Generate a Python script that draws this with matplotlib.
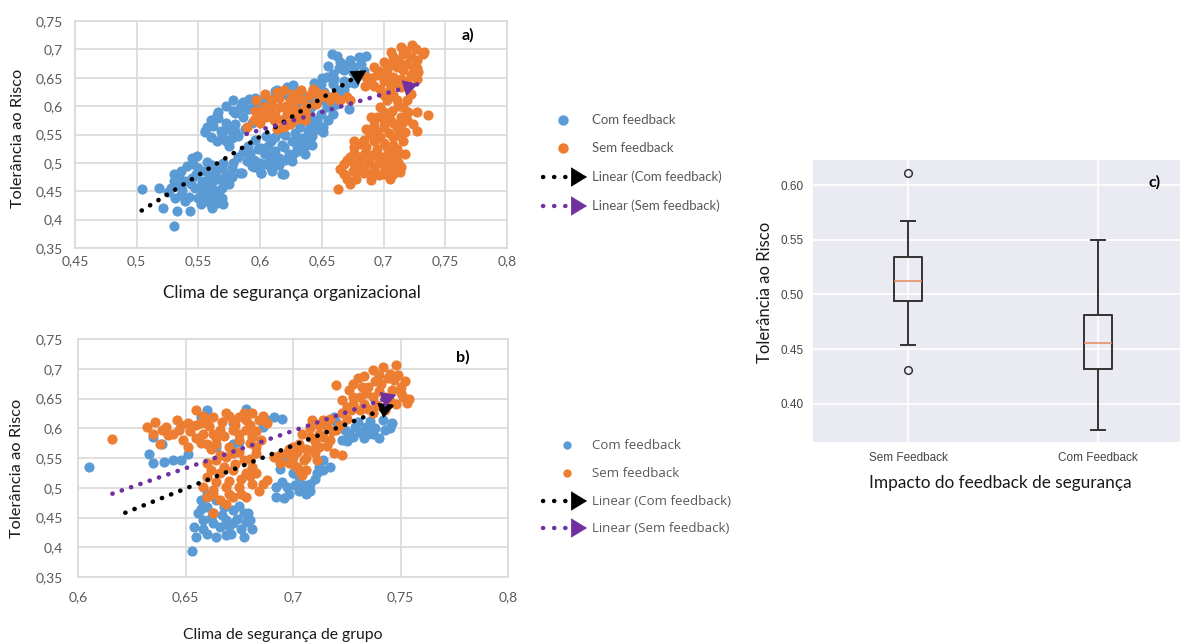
import numpy as np
import matplotlib
matplotlib.use("Agg")
import matplotlib.pyplot as plt

BLUE = "#5B9BD5"
ORANGE = "#ED7D31"
PURPLE = "#7030A0"
GRID = "#D9D9D9"
TICK = "#595959"
LABEL_FONT = ["Lato", "DejaVu Sans"]

# ---------------- data ----------------
# a) organisational safety climate vs risk tolerance
a_com = [
    (0.504, 0.454), (0.518, 0.455), (0.521, 0.421), (0.530, 0.389), (0.533, 0.415),
    (0.543, 0.415), (0.561, 0.421), (0.570, 0.428), (0.619, 0.481), (0.610, 0.486),
    (0.601, 0.482), (0.584, 0.482),
    (0.528, 0.456), (0.534, 0.462), (0.539, 0.468), (0.545, 0.474), (0.547, 0.456),
    (0.553, 0.450), (0.558, 0.456), (0.550, 0.438), (0.539, 0.432), (0.536, 0.444),
    (0.531, 0.438), (0.555, 0.432), (0.561, 0.438), (0.566, 0.444), (0.569, 0.456),
    (0.572, 0.468), (0.574, 0.479), (0.577, 0.491), (0.569, 0.491), (0.561, 0.479),
    (0.555, 0.485), (0.550, 0.491), (0.545, 0.509), (0.549, 0.512), (0.536, 0.485),
    (0.534, 0.474), (0.553, 0.468), (0.562, 0.468), (0.565, 0.429), (0.569, 0.438),
    (0.561, 0.497), (0.572, 0.479),
    (0.525, 0.448), (0.530, 0.468), (0.537, 0.452), (0.542, 0.440), (0.544, 0.462),
    (0.548, 0.480), (0.552, 0.460), (0.556, 0.444), (0.558, 0.470), (0.563, 0.452),
    (0.564, 0.485), (0.567, 0.472), (0.570, 0.500), (0.575, 0.462), (0.578, 0.500),
    (0.541, 0.495), (0.546, 0.498), (0.557, 0.502), (0.530, 0.480), (0.552, 0.427),
    (0.560, 0.428), (0.577, 0.475), (0.582, 0.510), (0.586, 0.520), (0.595, 0.505),
    (0.598, 0.525),
    (0.555, 0.556), (0.562, 0.565), (0.569, 0.550), (0.577, 0.544), (0.572, 0.538),
    (0.565, 0.538), (0.580, 0.556),
    (0.566, 0.579), (0.572, 0.571), (0.580, 0.588), (0.585, 0.603), (0.584, 0.597),
    (0.591, 0.612), (0.596, 0.615), (0.580, 0.568), (0.574, 0.559),
    (0.560, 0.575), (0.566, 0.590), (0.572, 0.600), (0.578, 0.592), (0.586, 0.580),
    (0.590, 0.595), (0.593, 0.570), (0.588, 0.560), (0.582, 0.548), (0.575, 0.530),
    (0.560, 0.545), (0.595, 0.600), (0.600, 0.590), (0.605, 0.605), (0.598, 0.580),
    (0.601, 0.526), (0.609, 0.538), (0.618, 0.532), (0.626, 0.538), (0.634, 0.544),
    (0.639, 0.556), (0.631, 0.521), (0.623, 0.515), (0.615, 0.509), (0.607, 0.503),
    (0.609, 0.491), (0.599, 0.491), (0.593, 0.494), (0.585, 0.482), (0.601, 0.482),
    (0.618, 0.481), (0.615, 0.497), (0.626, 0.503), (0.636, 0.515), (0.642, 0.532),
    (0.604, 0.515), (0.612, 0.521), (0.590, 0.530), (0.596, 0.540), (0.592, 0.518),
    (0.600, 0.500), (0.606, 0.530), (0.612, 0.545), (0.620, 0.550), (0.628, 0.552),
    (0.620, 0.505), (0.630, 0.535), (0.636, 0.530), (0.642, 0.548), (0.646, 0.560),
    (0.640, 0.568), (0.632, 0.580), (0.625, 0.570), (0.615, 0.555), (0.605, 0.548),
    (0.604, 0.618), (0.612, 0.626), (0.620, 0.626), (0.626, 0.632), (0.628, 0.624),
    (0.599, 0.603),
    (0.658, 0.692), (0.665, 0.678), (0.673, 0.681), (0.680, 0.686), (0.686, 0.689),
    (0.676, 0.669), (0.668, 0.663), (0.659, 0.657), (0.654, 0.651), (0.649, 0.639),
    (0.643, 0.628), (0.659, 0.639), (0.668, 0.645), (0.678, 0.651), (0.665, 0.628),
    (0.657, 0.616), (0.649, 0.610), (0.641, 0.598), (0.649, 0.586), (0.654, 0.598),
    (0.662, 0.604), (0.672, 0.595), (0.659, 0.586), (0.651, 0.563), (0.651, 0.554),
    (0.638, 0.575), (0.632, 0.563), (0.638, 0.539), (0.630, 0.528), (0.627, 0.516),
    (0.619, 0.528), (0.611, 0.516), (0.614, 0.504), (0.605, 0.498), (0.595, 0.492),
    (0.589, 0.504),
    (0.645, 0.615), (0.652, 0.625), (0.660, 0.648), (0.664, 0.668), (0.670, 0.672),
    (0.675, 0.660), (0.682, 0.675), (0.684, 0.662), (0.662, 0.688), (0.655, 0.670),
    (0.650, 0.650), (0.644, 0.640), (0.658, 0.600), (0.665, 0.615), (0.670, 0.640),
    (0.676, 0.640), (0.668, 0.628), (0.646, 0.575), (0.655, 0.575), (0.639, 0.610),
    (0.635, 0.620), (0.630, 0.605), (0.640, 0.585),
    (0.578, 0.610), (0.586, 0.607), (0.565, 0.584), (0.557, 0.563), (0.555, 0.554),
    (0.568, 0.557), (0.578, 0.563), (0.614, 0.628), (0.622, 0.634), (0.627, 0.637),
    (0.612, 0.616), (0.622, 0.619),
]
a_sem = [
    (0.589, 0.563), (0.595, 0.575), (0.597, 0.610), (0.596, 0.592), (0.604, 0.622),
    (0.605, 0.581), (0.611, 0.575), (0.616, 0.598), (0.614, 0.560), (0.619, 0.563),
    (0.622, 0.586), (0.624, 0.610), (0.627, 0.622), (0.632, 0.592), (0.634, 0.610),
    (0.633, 0.628), (0.643, 0.631), (0.649, 0.616), (0.645, 0.604), (0.627, 0.575),
    (0.619, 0.628), (0.614, 0.625), (0.603, 0.598), (0.609, 0.610), (0.657, 0.610),
    (0.670, 0.616), (0.673, 0.610), (0.637, 0.586), (0.627, 0.598), (0.624, 0.569),
    (0.600, 0.570), (0.607, 0.590), (0.612, 0.585), (0.618, 0.575), (0.621, 0.600),
    (0.625, 0.588), (0.630, 0.578), (0.630, 0.612), (0.638, 0.600), (0.640, 0.620),
    (0.645, 0.625), (0.652, 0.622), (0.660, 0.618), (0.665, 0.610), (0.610, 0.600),
    (0.600, 0.585), (0.636, 0.575), (0.615, 0.615),
    (0.714, 0.704), (0.723, 0.707), (0.716, 0.692), (0.708, 0.686), (0.700, 0.678),
    (0.692, 0.669), (0.686, 0.651), (0.685, 0.636), (0.692, 0.636), (0.700, 0.645),
    (0.708, 0.651), (0.716, 0.663), (0.724, 0.669), (0.727, 0.681), (0.732, 0.692),
    (0.733, 0.695), (0.722, 0.686), (0.703, 0.663), (0.695, 0.654), (0.711, 0.669),
    (0.719, 0.645), (0.722, 0.622), (0.727, 0.648), (0.728, 0.660), (0.697, 0.631),
    (0.705, 0.631), (0.714, 0.634),
    (0.690, 0.650), (0.696, 0.662), (0.704, 0.672), (0.712, 0.680), (0.718, 0.697),
    (0.726, 0.700), (0.706, 0.695), (0.714, 0.648), (0.722, 0.655), (0.700, 0.655),
    (0.690, 0.643), (0.710, 0.640), (0.718, 0.675), (0.727, 0.668), (0.704, 0.645),
    (0.703, 0.610), (0.711, 0.610), (0.697, 0.598), (0.707, 0.592), (0.716, 0.598),
    (0.719, 0.610), (0.695, 0.581), (0.705, 0.578), (0.714, 0.581), (0.692, 0.566),
    (0.700, 0.563), (0.711, 0.563), (0.717, 0.554), (0.689, 0.551), (0.697, 0.545),
    (0.708, 0.545), (0.716, 0.539), (0.681, 0.534), (0.676, 0.528), (0.686, 0.528),
    (0.695, 0.525), (0.703, 0.528), (0.711, 0.525), (0.673, 0.510), (0.681, 0.510),
    (0.691, 0.513), (0.700, 0.510), (0.710, 0.510), (0.717, 0.516), (0.668, 0.498),
    (0.676, 0.498), (0.684, 0.492), (0.692, 0.492), (0.700, 0.495), (0.708, 0.492),
    (0.714, 0.492), (0.665, 0.489), (0.670, 0.472), (0.678, 0.472), (0.689, 0.481),
    (0.700, 0.481), (0.709, 0.486), (0.663, 0.454), (0.727, 0.589), (0.736, 0.584),
    (0.727, 0.557), (0.719, 0.575), (0.724, 0.569), (0.676, 0.539),
    (0.700, 0.620), (0.708, 0.620), (0.712, 0.600), (0.700, 0.590), (0.690, 0.580),
    (0.700, 0.573), (0.708, 0.570), (0.715, 0.570), (0.720, 0.590), (0.686, 0.560),
    (0.695, 0.555), (0.704, 0.553), (0.712, 0.550), (0.684, 0.540), (0.692, 0.538),
    (0.700, 0.535), (0.708, 0.532), (0.676, 0.518), (0.685, 0.518), (0.695, 0.518),
    (0.704, 0.518), (0.712, 0.518), (0.670, 0.505), (0.680, 0.503), (0.688, 0.503),
    (0.696, 0.502), (0.705, 0.503), (0.712, 0.502), (0.675, 0.485), (0.684, 0.482),
    (0.694, 0.482), (0.704, 0.485), (0.713, 0.484), (0.668, 0.480), (0.673, 0.462),
    (0.680, 0.488), (0.690, 0.470), (0.696, 0.478), (0.705, 0.472), (0.708, 0.480),
]
# trend lines: start (x, y) and arrow tip (x, y)
a_trend_com = (0.504, 0.416, 0.686, 0.663)
a_trend_sem = (0.589, 0.551, 0.728, 0.639)

# b) group safety climate vs risk tolerance
b_com = [
    (0.605, 0.535), (0.633, 0.556), (0.635, 0.541), (0.640, 0.543), (0.644, 0.546),
    (0.648, 0.546), (0.651, 0.557), (0.653, 0.393), (0.655, 0.417), (0.654, 0.434),
    (0.656, 0.457), (0.657, 0.479), (0.660, 0.468), (0.663, 0.457), (0.660, 0.423),
    (0.664, 0.417), (0.671, 0.423), (0.677, 0.417), (0.672, 0.440), (0.678, 0.443),
    (0.669, 0.446), (0.666, 0.434), (0.663, 0.440), (0.658, 0.446), (0.672, 0.462),
    (0.677, 0.457), (0.668, 0.468), (0.660, 0.490), (0.679, 0.457),
    (0.658, 0.430), (0.662, 0.450), (0.667, 0.455), (0.670, 0.435), (0.674, 0.448),
    (0.676, 0.430), (0.669, 0.420), (0.657, 0.465), (0.664, 0.480), (0.675, 0.470),
    (0.680, 0.445), (0.681, 0.430),
    (0.657, 0.619), (0.660, 0.630), (0.678, 0.633), (0.686, 0.602), (0.688, 0.614),
    (0.672, 0.608), (0.664, 0.569), (0.672, 0.574), (0.675, 0.577), (0.639, 0.574),
    (0.635, 0.586), (0.691, 0.619), (0.695, 0.615),
    (0.692, 0.501), (0.697, 0.501), (0.701, 0.504), (0.692, 0.485), (0.696, 0.482),
    (0.706, 0.490), (0.708, 0.507), (0.711, 0.524), (0.712, 0.535), (0.714, 0.546),
    (0.717, 0.535), (0.703, 0.518), (0.700, 0.524), (0.694, 0.532), (0.697, 0.546),
    (0.695, 0.510), (0.703, 0.495), (0.708, 0.495), (0.714, 0.530), (0.705, 0.505),
    (0.698, 0.490), (0.710, 0.515),
    (0.723, 0.580), (0.728, 0.586), (0.733, 0.583), (0.737, 0.591), (0.740, 0.583),
    (0.743, 0.597), (0.746, 0.608), (0.724, 0.597), (0.729, 0.602), (0.720, 0.611),
    (0.719, 0.619), (0.742, 0.614), (0.734, 0.602),
    (0.726, 0.590), (0.731, 0.593), (0.738, 0.600), (0.745, 0.600), (0.730, 0.610),
    (0.736, 0.612), (0.725, 0.578), (0.735, 0.590),
]
b_sem = [
    (0.616, 0.582), (0.632, 0.602), (0.636, 0.611), (0.635, 0.591), (0.638, 0.574),
    (0.641, 0.602), (0.644, 0.591), (0.647, 0.597), (0.649, 0.580), (0.651, 0.569),
    (0.646, 0.614), (0.651, 0.608), (0.655, 0.630), (0.657, 0.608), (0.660, 0.614),
    (0.663, 0.619), (0.658, 0.591), (0.663, 0.591), (0.660, 0.574), (0.664, 0.574),
    (0.669, 0.625), (0.672, 0.614), (0.675, 0.619), (0.678, 0.614), (0.681, 0.625),
    (0.684, 0.614), (0.672, 0.597), (0.678, 0.597), (0.666, 0.597), (0.655, 0.583),
    (0.670, 0.569), (0.681, 0.586), (0.683, 0.569),
    (0.652, 0.595), (0.655, 0.605), (0.658, 0.620), (0.661, 0.603), (0.664, 0.583),
    (0.667, 0.610), (0.668, 0.587), (0.670, 0.620), (0.673, 0.605), (0.675, 0.590),
    (0.677, 0.625), (0.680, 0.605), (0.683, 0.595), (0.686, 0.620), (0.688, 0.608),
    (0.657, 0.575), (0.662, 0.565), (0.675, 0.580), (0.680, 0.575), (0.685, 0.580),
    (0.642, 0.588), (0.648, 0.606), (0.639, 0.597),
    (0.660, 0.541), (0.664, 0.546), (0.669, 0.552), (0.672, 0.558), (0.677, 0.546),
    (0.660, 0.518), (0.666, 0.524), (0.672, 0.530), (0.678, 0.524), (0.681, 0.535),
    (0.658, 0.501), (0.663, 0.496), (0.669, 0.501), (0.675, 0.501), (0.681, 0.507),
    (0.686, 0.507), (0.660, 0.485), (0.666, 0.479), (0.672, 0.485), (0.678, 0.485),
    (0.669, 0.473), (0.663, 0.457), (0.688, 0.513), (0.683, 0.558),
    (0.662, 0.530), (0.668, 0.535), (0.673, 0.540), (0.664, 0.510), (0.670, 0.512),
    (0.676, 0.515), (0.680, 0.520), (0.684, 0.495), (0.676, 0.490), (0.663, 0.490),
    (0.675, 0.560), (0.680, 0.548), (0.666, 0.555), (0.670, 0.490), (0.683, 0.525),
    (0.691, 0.552), (0.694, 0.541), (0.697, 0.558), (0.700, 0.569), (0.698, 0.541),
    (0.703, 0.529), (0.705, 0.546), (0.703, 0.574), (0.708, 0.586), (0.709, 0.563),
    (0.712, 0.569), (0.712, 0.591), (0.717, 0.580), (0.716, 0.602), (0.720, 0.597),
    (0.709, 0.614), (0.719, 0.558), (0.723, 0.555), (0.711, 0.546), (0.706, 0.529),
    (0.700, 0.552), (0.704, 0.521), (0.714, 0.614),
    (0.702, 0.560), (0.706, 0.565), (0.710, 0.578), (0.714, 0.585), (0.718, 0.595),
    (0.712, 0.605), (0.708, 0.600), (0.704, 0.590), (0.698, 0.565), (0.694, 0.555),
    (0.700, 0.540), (0.706, 0.550), (0.716, 0.570), (0.722, 0.605), (0.725, 0.615),
    (0.717, 0.615), (0.710, 0.558), (0.702, 0.535),
    (0.720, 0.673), (0.723, 0.647), (0.728, 0.653), (0.725, 0.636), (0.731, 0.630),
    (0.737, 0.625), (0.743, 0.630), (0.728, 0.675), (0.733, 0.687), (0.737, 0.698),
    (0.742, 0.703), (0.748, 0.706), (0.735, 0.670), (0.741, 0.675), (0.747, 0.681),
    (0.750, 0.670), (0.751, 0.653), (0.753, 0.642), (0.731, 0.653), (0.737, 0.653),
    (0.743, 0.653), (0.739, 0.639), (0.723, 0.625), (0.745, 0.692), (0.730, 0.684),
    (0.726, 0.665), (0.732, 0.670), (0.738, 0.680), (0.744, 0.685), (0.740, 0.690),
    (0.734, 0.660), (0.740, 0.662), (0.746, 0.665), (0.749, 0.690), (0.752, 0.680),
    (0.745, 0.645), (0.748, 0.640), (0.733, 0.640), (0.728, 0.640), (0.735, 0.632),
    (0.727, 0.630), (0.750, 0.660), (0.754, 0.650),
]
b_trend_com = (0.622, 0.458, 0.747, 0.639)
b_trend_sem = (0.616, 0.490, 0.748, 0.656)

y_ticks = [0.35, 0.40, 0.45, 0.50, 0.55, 0.60, 0.65, 0.70, 0.75]
a_x_ticks = [0.45, 0.50, 0.55, 0.60, 0.65, 0.70, 0.75, 0.80]
b_x_ticks = [0.60, 0.65, 0.70, 0.75, 0.80]

# c) risk tolerance by feedback condition (box statistics)
c_groups = ["Sem Feedback", "Com Feedback"]
c_whislo = [0.454, 0.376]
c_q1 = [0.494, 0.432]
c_med = [0.512, 0.456]
c_q3 = [0.534, 0.481]
c_whishi = [0.567, 0.550]
c_fliers = [[0.611, 0.431], []]
c_y_ticks = [0.40, 0.45, 0.50, 0.55, 0.60]

legend_labels = ["Com feedback", "Sem feedback",
                 "Linear (Com feedback)", "Linear (Sem feedback)"]

DOTS = (0, (0.05, 2.1))


def comma(v):
    return f"{v:g}".replace(".", ",")


def draw_trend(ax, tr, color):
    x0, y0, x1, y1 = tr
    ax.plot([x0, x1], [y0, y1], color=color, lw=3.3, ls=DOTS,
            dash_capstyle="round", zorder=4)
    ax.annotate("", xy=(x1, y1),
                xytext=(x1 - 0.04 * (x1 - x0), y1 - 0.04 * (y1 - y0)),
                arrowprops=dict(arrowstyle="-|>,head_length=0.9,head_width=0.5",
                                color=color, lw=0.5, mutation_scale=11,
                                shrinkA=0, shrinkB=0),
                zorder=5)


def excel_scatter(ax, com, sem, tr_com, tr_sem, xlim, xticks, xpad, ypad):
    ax.set_xlim(*xlim)
    ax.set_ylim(0.35, 0.75)
    ax.set_xticks(xticks)
    ax.set_xticklabels([comma(v) for v in xticks])
    ax.set_yticks(y_ticks)
    ax.set_yticklabels([comma(v) for v in y_ticks])
    ax.grid(True, color=GRID, lw=1.2)
    ax.set_axisbelow(True)
    for s in ax.spines.values():
        s.set_color(GRID)
        s.set_linewidth(1.2)
    ax.tick_params(axis="x", length=0, colors=TICK, labelsize=10, pad=xpad)
    ax.tick_params(axis="y", length=0, colors=TICK, labelsize=10, pad=ypad)
    for lab in ax.get_xticklabels() + ax.get_yticklabels():
        lab.set_fontfamily(LABEL_FONT)
    cx, cy = np.array(com).T
    sx, sy = np.array(sem).T
    ax.scatter(cx, cy, s=54, color=BLUE, lw=0, zorder=2)
    ax.scatter(sx, sy, s=54, color=ORANGE, lw=0, zorder=3)
    draw_trend(ax, tr_com, "black")
    draw_trend(ax, tr_sem, PURPLE)


fig = plt.figure(figsize=(11.8, 6.44), dpi=100)
W, H = 1180, 644


def px_axes(x0, y0, x1, y1):
    return fig.add_axes([x0 / W, 1 - y1 / H, (x1 - x0) / W, (y1 - y0) / H])


ax_a = px_axes(75, 21, 507, 248)
excel_scatter(ax_a, a_com, a_sem, a_trend_com, a_trend_sem,
              (0.45, 0.80), a_x_ticks, 5, 9)
ax_b = px_axes(78, 339, 508, 577)
excel_scatter(ax_b, b_com, b_sem, b_trend_com, b_trend_sem,
              (0.60, 0.80), b_x_ticks, 10, 11)

# c) box plot in a grey-grid style
ax_c = px_axes(813, 160, 1180, 442)
ax_c.set_facecolor("#EAEAF2")
stats = [dict(label=g, whislo=lo, q1=q1, med=m, q3=q3, whishi=hi, fliers=f)
         for g, lo, q1, m, q3, hi, f in zip(c_groups, c_whislo, c_q1, c_med,
                                             c_q3, c_whishi, c_fliers)]
line = dict(color="#333333", lw=1.4)
ax_c.bxp(stats, positions=[1, 2], widths=0.15, boxprops=line,
         whiskerprops=line, capprops=line,
         medianprops=dict(color="#E8875F", lw=1.1),
         flierprops=dict(marker="o", mfc="none", mec="#333333", ms=5.5, mew=1.1))
ax_c.set_xlim(0.5, 0.5 + 367 / 190)
ax_c.set_ylim(0.365, 0.623)
ax_c.set_yticks(c_y_ticks)
ax_c.set_yticklabels([f"{v:.2f}" for v in c_y_ticks])
ax_c.grid(True, color="white", lw=1.2)
ax_c.set_axisbelow(True)
for s in ax_c.spines.values():
    s.set_visible(False)
ax_c.tick_params(length=0, colors="#444444", labelsize=8.5, pad=7)
for lab in ax_c.get_xticklabels() + ax_c.get_yticklabels():
    lab.set_fontfamily(["Liberation Sans", "DejaVu Sans"])

# overlay in pixel units for labels and legends
ov = fig.add_axes([0, 0, 1, 1], zorder=10)
ov.set_xlim(0, W)
ov.set_ylim(H, 0)
ov.axis("off")
ov.patch.set_alpha(0)

lab_kw = dict(fontfamily=LABEL_FONT, color="#1a1a1a", ha="center", va="center")
ov.text(18, 138, "Tolerância ao Risco", rotation=90, fontsize=11.8, **lab_kw)
ov.text(292, 293, "Clima de segurança organizacional", fontsize=12.3, **lab_kw)
ov.text(17, 468, "Tolerância ao Risco", rotation=90, fontsize=11.8, **lab_kw)
ov.text(283, 635, "Clima de segurança de grupo", fontsize=11.3, **lab_kw)
ov.text(765, 292, "Tolerância ao Risco", rotation=90, fontsize=12, **lab_kw)
ov.text(1000, 483, "Impacto do feedback de segurança", fontsize=12.4, **lab_kw)

tag_kw = dict(fontfamily=LABEL_FONT, fontsize=11.5, fontweight="bold",
              color="black", ha="center", va="center")
ov.text(468, 35, "a)", **tag_kw)
ov.text(463, 357, "b)", **tag_kw)
ov.text(1155, 182, "c)", **tag_kw)


def legend(x_mark, rows, msize, fam):
    colors = [BLUE, ORANGE, "black", PURPLE]
    for i, (yy, lab, col) in enumerate(zip(rows, legend_labels, colors)):
        if i < 2:
            ov.plot([x_mark], [yy], "o", ms=msize, color=col, mew=0)
        else:
            ov.plot([543, 566], [yy, yy], color=col, lw=3.2,
                    ls=(0, (0.05, 2.45)), dash_capstyle="round")
            ov.annotate("", xy=(587, yy), xytext=(578, yy),
                        arrowprops=dict(arrowstyle="-|>,head_length=0.9,head_width=0.55",
                                        color=col, lw=0.5, mutation_scale=12,
                                        shrinkA=0, shrinkB=0))
        ov.text(592, yy, lab, fontfamily=fam, fontsize=9.5, color=TICK,
                ha="left", va="center")


legend(563, [120, 148, 177, 206], 7.5, LABEL_FONT)
legend(567, [445, 473, 501, 528], 6, ["Open Sans", "DejaVu Sans"])

fig.savefig("out.png", dpi=100)
